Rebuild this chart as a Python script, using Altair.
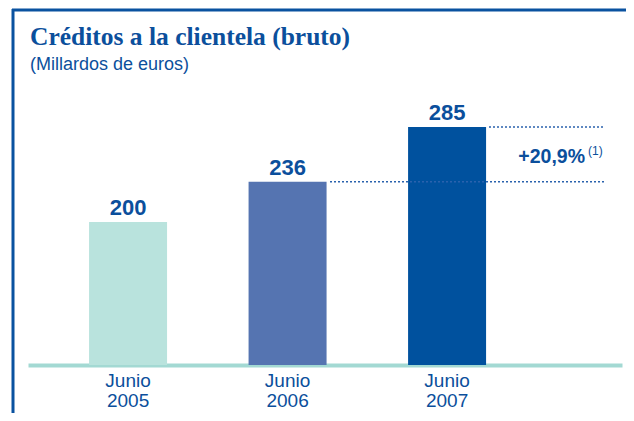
import altair as alt
import pandas as pd

years = ["2005", "2006", "2007"]
values = [200, 236, 285]
colors = ["#b9e3dd", "#5574b1", "#00519e"]
title_text = "Créditos a la clientela (bruto)"
subtitle_text = "(Millardos de euros)"
growth_label = "+20,9%"
growth_note = "(1)"

BLUE = "#0b4f9c"
Y_MIN, Y_MAX = 72.1, 309.1

df = pd.DataFrame({"year": years, "value": values, "color": colors})
mid_df = pd.DataFrame({"mid": [(values[1] + values[2]) / 2]})
dummy = pd.DataFrame({"a": [0]})

x_enc = alt.X(
    "year:N",
    sort=years,
    scale=alt.Scale(paddingInner=0.511, paddingOuter=0.6175, align=0.31),
    axis=alt.Axis(
        title=None,
        ticks=False,
        domainColor="#a3d9d3",
        domainWidth=4,
        labelExpr="['Junio', datum.label]",
        labelFont="Liberation Sans",
        labelFontSize=19,
        labelLineHeight=20,
        labelColor=BLUE,
        labelPadding=6,
        labelAngle=0,
    ),
)
y_scale = alt.Scale(domain=[Y_MIN, Y_MAX], zero=False, nice=False)

base = alt.Chart(df)

bars = base.mark_bar().encode(
    x=x_enc,
    y=alt.Y("value:Q", scale=y_scale, axis=None),
    y2=alt.datum(Y_MIN),
    color=alt.Color("color:N", scale=None, legend=None),
)

labels = base.mark_text(
    baseline="alphabetic", dy=-7, font="Liberation Sans", fontWeight="bold",
    fontSize=22, color=BLUE,
).encode(
    x=alt.X("year:N", sort=years),
    y=alt.Y("value:Q", scale=y_scale),
    text=alt.Text("value:Q"),
)

dot_hi = base.transform_filter(alt.datum.year == "2007").mark_rule(
    color="#2a62ad", strokeWidth=1.5, strokeDash=[2, 2]
).encode(y=alt.Y("value:Q", scale=y_scale), x=alt.value(461), x2=alt.value(577))

dot_lo = base.transform_filter(alt.datum.year == "2006").mark_rule(
    color="#2a62ad", strokeWidth=1.5, strokeDash=[2, 2]
).encode(y=alt.Y("value:Q", scale=y_scale), x=alt.value(302), x2=alt.value(577))

growth = alt.Chart(mid_df).mark_text(
    align="right", baseline="middle", dy=3, font="Liberation Sans",
    fontWeight="bold", fontSize=19.5, color=BLUE, text=growth_label,
).encode(y=alt.Y("mid:Q", scale=y_scale), x=alt.value(557))

note = alt.Chart(mid_df).mark_text(
    align="left", baseline="middle", dy=-3, font="Liberation Sans",
    fontSize=12, color=BLUE, text=growth_note,
).encode(y=alt.Y("mid:Q", scale=y_scale), x=alt.value(560))

title = alt.Chart(dummy).mark_text(
    align="left", baseline="alphabetic", font="Liberation Serif",
    fontWeight="bold", fontSize=25.5, color=BLUE, text=title_text,
).encode(x=alt.value(2), y=alt.value(-55))

subtitle = alt.Chart(dummy).mark_text(
    align="left", baseline="alphabetic", font="Liberation Sans",
    fontSize=18, color=BLUE, text=subtitle_text,
).encode(x=alt.value(2), y=alt.value(-30))

frame_top = alt.Chart(dummy).mark_rule(color="#0a52a0", strokeWidth=3).encode(
    x=alt.value(-16), x2=alt.value(610), y=alt.value(-90)
)
frame_left = alt.Chart(dummy).mark_rule(color="#0a52a0", strokeWidth=3).encode(
    x=alt.value(-15), y=alt.value(-91), y2=alt.value(320)
)

chart = alt.layer(
    frame_top, frame_left, title, subtitle, bars, dot_hi, dot_lo, labels, growth, note
).properties(
    width=594,
    height=265,
    padding={"left": 20, "top": 92, "right": 4, "bottom": 48},
    autosize=alt.AutoSizeParams(type="none"),
).configure_view(strokeWidth=0, stroke=None)

chart.save("out.html", embed_options={"renderer": "svg", "actions": False})
